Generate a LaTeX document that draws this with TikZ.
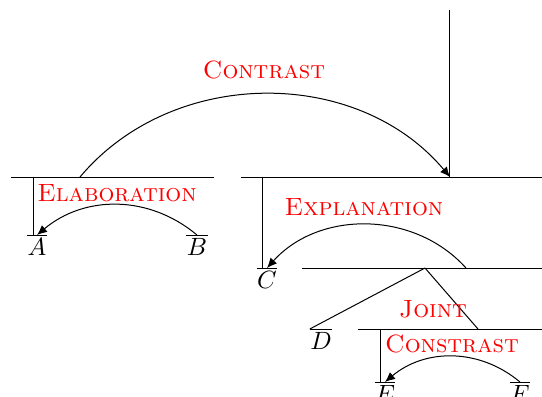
\documentclass[tikz,border=0pt]{standalone}
\usepackage{xcolor}
\usepackage{tikz}
\usetikzlibrary{arrows.meta, positioning, calc}

\begin{document}
\begin{tikzpicture}[
    x=0.4pt, y=-0.4pt,
    leaf/.style={inner xsep=0pt, inner ysep=1pt, anchor=north},
    rel/.style={text=red, font=\scshape},
    arc/.style={-{Latex[length=4pt, width=3.5pt]}},
]
\useasboundingbox (0,0) rectangle (542,396);

% Leaves
\node[leaf] (A) at (37,235) {$A$};
\node[leaf] (B) at (197,235) {$B$};
\node[leaf] (C) at (267,268) {$C$};
\node[leaf] (D) at (321,329) {$D$};
\node[leaf] (E) at (385,382) {$E$};
\node[leaf] (F) at (520,382) {$F$};
\foreach \n in {A,B,C,D,E,F}
    \draw (\n.north west) -- (\n.north east);

% Spans
\coordinate (top) at (450,10);
\coordinate (root) at (450,177);
\coordinate (elabL) at (11,177);
\coordinate (elabR) at (214,177);
\coordinate (explL) at (241,177);
\coordinate (explR) at (542,177);
\coordinate (jointL) at (302,268);
\coordinate (jointR) at (542,268);
\coordinate (conL) at (358,329);
\coordinate (conR) at (542,329);
\coordinate (joint) at (425,268);

\draw (elabL) -- (elabR);
\draw (explL) -- (explR);
\draw (jointL) -- (jointR);
\draw (conL) -- (conR);
\draw (top) -- (root);

% Nuclei
\draw (34,177) -- (34,235);
\draw (263,177) -- (263,268);
\draw (381,329) -- (381,382);
\draw (joint) -- (D.north west);
\draw (joint) -- (478,329);

% Relations
\draw[arc] (80,177) to[bend left=50] (root);
\draw[arc] (B.north) to[bend right=40] (A.north);
\draw[arc] (466,268) to[bend right=48] (C.north);
\draw[arc] (F.north) to[bend right=40] (E.north);

\node[rel] (contrast) at (264,70) {Contrast};
\node[rel] (elab) at (117,193) {Elaboration};
\node[rel] (expl) at (364,207) {Explanation};
\node[rel] (jointlab) at (433,309) {Joint};
\node[rel] (constrast) at (452,344) {Constrast};

\end{tikzpicture}
\end{document}
